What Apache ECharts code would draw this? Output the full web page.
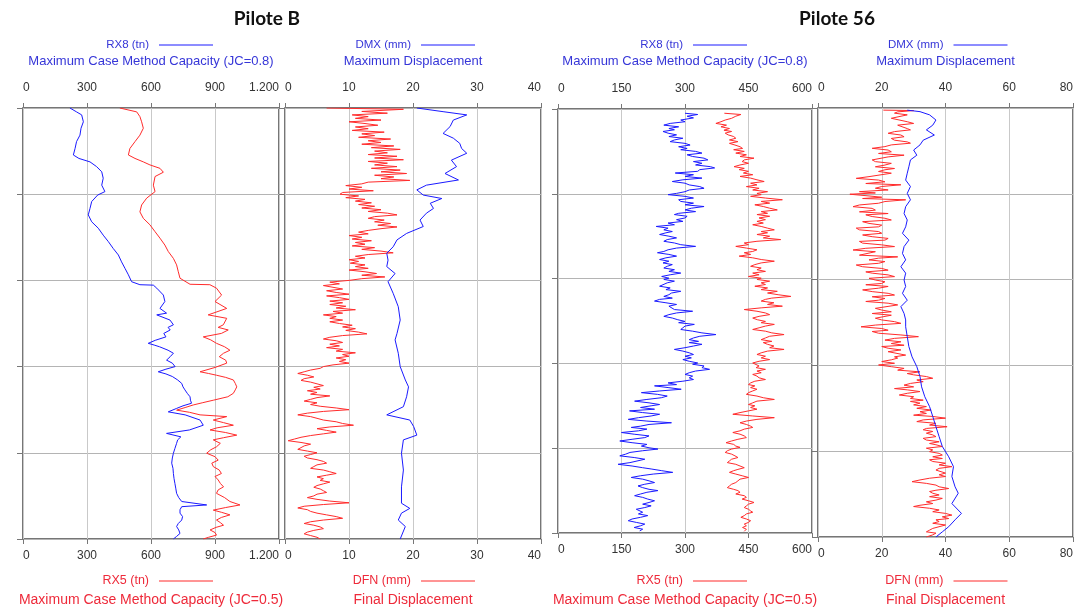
<!DOCTYPE html>
<html>
<head>
<meta charset="utf-8">
<title>Pilote B / Pilote 56</title>
<script src="https://cdn.jsdelivr.net/npm/echarts@6/dist/echarts.min.js"></script>
<style>
  html, body { margin: 0; padding: 0; background: #fff; }
  #chart { width: 1076px; height: 609px; }
</style>
</head>
<body>
<div id="chart"></div>
<script>
// ticks of each track (top and bottom axes share them)
var ticksRxB = [0, 300, 600, 900, 1200];
var ticksDB = [0, 10, 20, 30, 40];
var ticksRx56 = [0, 150, 300, 450, 600];
var ticksD56 = [0, 20, 40, 60, 80];

// [value, depth %]
// Pilote B - RX8 (blue) / RX5 (red)
var pbRx8 = [[220,0],[251,0.9],[275,1.6],[283,3.2],[272,4.7],[267,6.3],[251,7.8],[244,9.4],[236,10.9],[262,11.7],[314,12.5],[345,13.6],[369,14.8],[376,16.3],[369,17.9],[384,19.4],[350,20.2],[322,21.7],[314,23.3],[306,24.8],[322,26.4],[353,27.9],[376,29.5],[400,31.0],[423,32.6],[447,34.1],[462,35.7],[478,37.2],[494,38.7],[509,40.3],[548,41.0],[611,41.1],[627,41.8],[658,43.4],[665,44.9],[642,46.5],[673,47.6],[627,48.0],[689,49.2],[705,50.3],[680,50.9],[690,51.5],[660,52.3],[670,53.1],[620,53.9],[587,54.6],[615,55.0],[640,55.4],[680,56.2],[705,56.9],[690,57.7],[673,58.5],[700,59.2],[713,60.0],[670,60.6],[634,61.2],[670,61.7],[700,62.3],[725,63.1],[744,63.9],[750,64.7],[759,65.4],[770,66.2],[783,67.0],[785,67.8],[790,68.5],[750,69.1],[720,69.7],[681,70.5],[760,71.2],[830,72.4],[845,73.6],[780,74.7],[673,75.5],[740,76.3],[725,77.0],[720,77.8],[712,79.0],[705,80.1],[700,81.2],[697,82.4],[703,83.6],[705,84.8],[708,86.0],[712,87.1],[716,88.2],[720,89.4],[730,90.4],[744,91.3],[861,92.1],[744,92.5],[736,93.2],[736,94.0],[748,94.8],[744,95.6],[728,96.4],[720,97.1],[730,97.9],[736,98.7],[720,99.4],[705,100]];
var pbRx5 = [[454,0],[533,0.9],[548,2.0],[556,3.2],[564,4.7],[548,6.3],[525,7.8],[501,9.4],[494,10.9],[525,11.7],[564,12.5],[595,13.2],[642,14.0],[658,14.9],[619,15.9],[611,17.9],[619,19.4],[580,20.9],[556,22.5],[548,24.1],[564,25.6],[595,27.1],[619,28.7],[642,30.2],[665,31.8],[681,33.3],[705,34.9],[720,36.4],[728,38.0],[736,39.5],[783,40.9],[876,41.0],[907,41.8],[931,43.4],[900,44.9],[955,46.5],[868,48.0],[955,48.8],[939,50.3],[915,50.9],[962,51.5],[930,52.3],[845,53.1],[880,53.8],[907,54.6],[945,55.4],[970,56.2],[940,56.9],[920,57.7],[950,58.5],[955,59.2],[900,60.2],[830,61.2],[870,61.6],[907,62.0],[950,62.5],[986,63.1],[995,63.9],[1002,64.7],[995,65.4],[986,66.2],[960,67.0],[892,67.8],[840,68.4],[798,68.9],[760,69.5],[720,70.1],[780,70.6],[830,71.2],[955,71.6],[892,72.4],[940,73.0],[986,73.6],[910,74.2],[877,74.7],[950,75.3],[1002,75.9],[940,76.5],[892,77.0],[925,77.8],[907,78.6],[880,79.3],[861,80.1],[900,80.9],[915,81.7],[885,82.4],[892,83.2],[920,84.0],[930,84.8],[900,85.5],[915,86.3],[925,87.1],[940,87.9],[915,88.6],[907,89.4],[945,90.4],[970,91.3],[1017,92.1],[950,92.7],[892,93.3],[930,93.8],[970,94.4],[930,95.0],[907,95.6],[925,96.2],[940,96.8],[905,97.3],[877,97.9],[900,98.5],[907,99.1],[870,99.6],[845,100]];
// Pilote B - DMX (blue) / DFN (red)
var pbDmx = [[20.6,0],[24.7,0.85],[28.4,1.6],[26.3,2.8],[25.8,4.3],[24.7,5.9],[26.3,7.0],[27.3,8.2],[27.6,9.4],[28.4,10.5],[26.0,12.1],[26.8,13.6],[25.0,15.2],[27.1,16.7],[22.1,17.9],[20.6,19.0],[21.6,20.2],[24.5,21.0],[22.7,22.1],[23.2,23.3],[22.1,24.4],[21.1,26.0],[21.6,27.5],[19.0,29.1],[17.5,30.6],[16.9,32.2],[15.9,33.7],[16.1,35.3],[15.9,36.8],[17.2,38.4],[16.1,40.3],[16.9,43.0],[17.7,46.1],[18.0,49.2],[17.5,52.3],[17.2,53.8],[17.7,56.9],[18.0,60.0],[18.8,63.1],[19.3,64.7],[19.0,67.0],[18.5,69.3],[15.9,71.2],[19.5,72.4],[20.1,73.9],[20.6,75.9],[18.5,77.0],[18.2,80.1],[18.5,84.0],[18.2,87.9],[18.2,91.7],[19.5,92.9],[18.2,94.0],[17.7,95.6],[18.8,97.1],[18.0,100]];
var pbDfn = [[6.5,0],[18.5,0.3],[12,0.8],[16,1.2],[10.5,1.6],[13,2.0],[11,2.4],[15,2.8],[10,3.2],[12.5,3.6],[14.5,4.0],[11,4.4],[13,4.8],[10.5,5.2],[15.5,5.6],[12,6.0],[14,6.4],[11.5,6.8],[16.5,7.2],[13,7.6],[15,8.0],[12,8.4],[17,8.8],[13.5,9.2],[18,9.6],[14,10.0],[16,10.4],[13,10.8],[17.5,11.2],[14,11.6],[18.5,12.0],[13,12.4],[16,12.8],[14,13.2],[17.5,13.6],[13.5,14.0],[18,14.4],[15,14.8],[19,15.2],[14,15.6],[17,16.0],[15,16.4],[19.5,16.8],[13,17.2],[12,17.6],[9.5,18.0],[12,18.4],[10,18.8],[13.8,19.2],[9,19.6],[8.6,20.0],[11.5,20.4],[9.5,20.8],[12.5,21.2],[11,21.6],[13.5,22.0],[11.5,22.4],[14,22.8],[12,23.2],[15,23.6],[13,24.0],[16,24.4],[17.5,24.8],[14,25.2],[13,25.6],[15.5,26.0],[14,26.4],[16.5,26.8],[14.5,27.2],[17.5,27.6],[15,28.0],[13,28.4],[11.5,28.8],[13,29.2],[10,29.6],[12,30.0],[10.5,30.4],[13.5,30.8],[11,31.2],[12.5,31.6],[10.5,32.0],[14,32.4],[12,32.8],[15,33.2],[16.9,33.6],[13,34.0],[11,34.4],[12.5,34.8],[10,35.2],[11.5,35.6],[10.2,36.0],[12.5,36.4],[11,36.8],[13,37.2],[10,37.6],[12.5,38.0],[14.3,38.4],[12,38.8],[15.6,39.2],[12,39.6],[10,40.0],[7,40.4],[8.5,40.8],[6,41.2],[7.5,41.6],[9,42.0],[6.5,42.4],[8,42.8],[10,43.2],[6.5,43.6],[8.5,44.0],[10,44.4],[7,44.8],[9,45.2],[7,45.6],[9.5,46.0],[8,46.4],[11,46.8],[7.5,47.2],[9,47.6],[6,48.0],[8,48.4],[7,48.8],[9,49.2],[7,49.6],[8.5,50.0],[10.5,50.4],[9,50.8],[11,51.2],[9.5,51.6],[11.5,52.0],[12.8,52.4],[9,52.8],[7,53.2],[6,53.6],[8,54.0],[9,54.4],[7,54.8],[8.5,55.2],[6.5,55.6],[9,56.0],[8,56.4],[11,56.8],[9,57.2],[10,57.6],[8,58.0],[9.5,58.4],[8.5,58.8],[10,59.2],[7.5,59.6],[6,60.0],[5.5,60.4],[4,60.8],[3,61.2],[2,61.6],[3.5,62.0],[4.5,62.4],[3,62.8],[2.5,63.2],[4,63.6],[5,64.0],[6,64.4],[4.5,64.8],[5.5,65.2],[3.5,65.6],[5,66.0],[4,66.4],[7,66.8],[5,67.2],[4,67.6],[3,68.0],[5,68.4],[4,68.8],[5.5,69.2],[8,69.6],[10,70.0],[6,70.4],[3.5,70.8],[2,71.2],[4,71.6],[5,72.0],[6,72.4],[8,72.8],[9,73.2],[10.7,73.6],[7,74.0],[5,74.4],[6.5,74.8],[8,75.2],[6,75.6],[4,76.0],[2.5,76.4],[1.5,76.8],[0.5,77.2],[2.5,77.6],[4,78.0],[3,78.4],[2.5,78.8],[2,79.2],[3.5,79.6],[5,80.0],[4,80.4],[3,80.8],[3.5,81.2],[5,81.6],[6,82.0],[6.5,82.4],[5,82.8],[4.5,83.2],[4,83.6],[6,84.0],[7,84.4],[8,84.8],[6.5,85.2],[5,85.6],[6,86.0],[5.5,86.4],[7,86.8],[6,87.2],[5,87.6],[4.5,88.0],[5.5,88.4],[6,88.8],[6.5,89.2],[5,89.6],[4.5,90.0],[3.5,90.4],[5,90.8],[7,91.2],[10,91.6],[6,92.0],[3,92.4],[2,92.8],[3.5,93.2],[4,93.6],[5,94.0],[6.5,94.4],[8,94.8],[9,95.2],[6,95.6],[4,96.0],[3,96.4],[4.5,96.8],[5.5,97.2],[6,97.6],[4.5,98.0],[3.5,98.4],[3,98.8],[4,99.2],[5,99.6],[5.5,100]];
// Pilote 56 - RX8 (blue) / RX5 (red)
var p56Rx8 = [[300,1.0],[330,1.3],[305,1.7],[320,2.1],[290,2.6],[300,3.0],[265,3.4],[250,3.8],[285,4.2],[262,4.6],[275,4.9],[248,5.3],[260,5.7],[280,6.1],[262,6.5],[295,6.9],[275,7.3],[265,7.7],[300,8.1],[312,8.5],[285,8.9],[305,9.3],[290,9.6],[325,10.0],[340,10.4],[305,10.8],[318,11.2],[345,11.6],[354,12.0],[320,12.4],[340,12.8],[325,13.2],[360,13.6],[370,13.9],[335,14.3],[330,14.7],[277,15.1],[320,15.5],[300,15.9],[340,16.3],[295,16.7],[270,17.1],[300,17.5],[310,17.9],[335,18.3],[345,18.7],[310,19.1],[300,19.5],[280,19.9],[260,20.2],[300,20.6],[320,21.0],[285,21.4],[290,21.8],[320,22.2],[300,22.6],[345,23.0],[315,23.4],[300,23.8],[325,24.2],[285,24.6],[275,24.9],[305,25.3],[300,25.7],[280,26.1],[295,26.5],[260,26.9],[275,27.3],[232,27.7],[260,28.1],[250,28.5],[270,28.9],[255,29.2],[240,29.6],[262,30.0],[280,30.4],[258,30.8],[250,31.2],[275,31.6],[290,32.0],[325,32.4],[280,32.8],[260,33.2],[250,33.6],[235,33.9],[262,34.3],[280,34.7],[255,35.1],[240,35.5],[262,35.9],[248,36.3],[270,36.7],[258,37.1],[250,37.5],[275,37.9],[262,38.3],[290,38.7],[265,39.1],[245,39.5],[262,39.9],[250,40.2],[275,40.6],[258,41.0],[262,41.4],[240,41.8],[265,42.2],[255,42.6],[290,43.0],[268,43.4],[262,43.8],[250,44.2],[270,44.6],[240,44.9],[228,45.3],[255,45.7],[280,46.1],[262,46.5],[260,46.9],[275,47.3],[318,47.7],[280,48.1],[262,48.5],[250,48.9],[270,49.3],[283,49.7],[300,50.1],[285,50.4],[322,50.8],[300,51.2],[295,51.6],[290,52.0],[318,52.4],[340,52.8],[373,53.2],[335,53.6],[320,54.0],[310,54.4],[332,54.8],[310,55.1],[340,55.5],[320,55.9],[300,56.3],[275,56.7],[295,57.1],[310,57.5],[320,57.9],[300,58.3],[315,58.7],[295,59.1],[310,59.5],[330,59.9],[318,60.2],[345,60.6],[340,61.0],[358,61.4],[325,61.8],[310,62.2],[300,62.6],[318,63.0],[310,63.4],[320,63.8],[295,64.2],[260,64.6],[280,65.0],[228,65.3],[260,65.7],[291,66.1],[240,66.5],[197,66.9],[235,67.3],[258,67.7],[244,68.1],[210,68.5],[181,68.9],[215,69.3],[240,69.7],[220,70.0],[195,70.4],[228,70.8],[169,71.2],[200,71.6],[240,72.0],[220,72.4],[190,72.8],[166,73.2],[210,73.6],[268,74.0],[215,74.4],[195,74.8],[173,75.1],[210,75.5],[190,75.9],[150,76.3],[180,76.7],[215,77.1],[205,77.5],[175,77.9],[146,78.3],[175,78.7],[210,79.1],[197,79.5],[215,79.9],[236,80.2],[200,80.6],[170,81.0],[160,81.4],[146,81.8],[180,82.2],[205,82.6],[205,83.0],[170,83.4],[142,83.8],[175,84.2],[200,84.6],[220,84.9],[245,85.3],[271,85.7],[225,86.1],[195,86.5],[173,86.9],[200,87.3],[215,87.7],[228,88.1],[205,88.5],[189,88.9],[200,89.3],[215,89.7],[236,90.0],[210,90.4],[195,90.8],[181,91.2],[200,91.6],[212,92.0],[228,92.4],[215,92.8],[200,93.2],[220,93.6],[205,94.0],[185,94.4],[181,94.8],[200,95.1],[190,95.5],[212,95.9],[195,96.3],[175,96.7],[166,97.1],[185,97.5],[205,97.9],[195,98.3],[180,98.7],[200,99.1],[193,99.5]];
var p56Rx5 = [[393,1.0],[432,1.3],[420,1.7],[410,2.2],[395,2.6],[385,3.0],[373,3.4],[398,3.8],[385,4.2],[405,4.6],[392,5.0],[410,5.3],[395,5.7],[402,6.1],[415,6.5],[420,6.9],[405,7.3],[425,7.7],[405,8.1],[418,8.5],[430,8.9],[436,9.3],[415,9.6],[440,10.0],[420,10.4],[445,10.8],[430,11.2],[463,11.6],[440,12.0],[435,12.4],[450,12.8],[430,13.2],[416,13.6],[440,14.0],[428,14.3],[450,14.7],[438,15.1],[460,15.5],[430,15.9],[455,16.3],[470,16.7],[487,17.1],[455,17.5],[470,17.9],[445,18.3],[475,18.7],[460,19.1],[495,19.5],[470,19.9],[480,20.2],[455,20.6],[490,21.0],[530,21.4],[480,21.8],[500,22.2],[465,22.6],[485,23.0],[500,23.4],[518,23.8],[480,24.2],[495,24.6],[470,24.9],[500,25.3],[475,25.7],[490,26.1],[470,26.5],[485,26.9],[460,27.3],[480,27.7],[495,28.1],[511,28.5],[480,28.9],[495,29.2],[470,29.6],[500,30.0],[485,30.4],[526,30.8],[470,31.2],[440,31.6],[450,32.0],[420,32.4],[445,32.8],[470,33.2],[460,33.6],[440,33.9],[455,34.3],[428,34.7],[460,35.1],[480,35.5],[511,35.9],[480,36.3],[465,36.7],[455,37.1],[480,37.5],[470,37.9],[490,38.3],[460,38.7],[475,39.1],[450,39.5],[480,39.9],[470,40.2],[500,40.6],[480,41.0],[490,41.4],[465,41.8],[495,42.2],[480,42.6],[518,43.0],[495,43.4],[520,43.8],[550,44.2],[505,44.6],[490,44.9],[480,45.3],[510,45.7],[495,46.1],[530,46.5],[480,46.9],[440,47.3],[470,47.7],[490,48.1],[500,48.5],[475,48.9],[460,49.3],[471,49.7],[490,50.1],[480,50.4],[511,50.8],[490,51.2],[475,51.6],[460,52.0],[490,52.4],[505,52.8],[534,53.2],[500,53.6],[490,54.0],[480,54.4],[505,54.8],[485,55.1],[495,55.5],[510,55.9],[500,56.3],[534,56.7],[495,57.1],[480,57.5],[470,57.9],[490,58.3],[480,58.7],[500,59.1],[475,59.5],[460,59.9],[456,60.2],[475,60.6],[468,61.0],[490,61.4],[470,61.8],[480,62.2],[460,62.6],[470,63.0],[475,63.4],[490,63.8],[465,64.2],[455,64.6],[450,65.0],[465,65.3],[455,65.7],[470,66.1],[460,66.5],[450,66.9],[445,67.3],[470,67.7],[485,68.1],[511,68.5],[470,68.9],[460,69.3],[450,69.7],[465,70.0],[455,70.4],[470,70.8],[450,71.2],[430,71.6],[413,72.0],[460,72.4],[511,72.8],[470,73.2],[445,73.6],[430,74.0],[445,74.4],[455,74.8],[460,75.1],[440,75.5],[430,75.9],[413,76.3],[430,76.7],[440,77.1],[445,77.5],[425,77.9],[410,78.3],[397,78.7],[415,79.1],[420,79.5],[430,79.8],[410,80.2],[400,80.6],[395,81.0],[410,81.4],[418,81.8],[425,82.2],[410,82.6],[405,83.0],[400,83.4],[420,83.8],[430,84.2],[440,84.6],[425,85.0],[415,85.3],[405,85.7],[420,86.1],[435,86.5],[450,86.9],[430,87.3],[425,87.7],[420,88.1],[410,88.5],[405,88.9],[400,89.3],[415,89.7],[425,90.0],[430,90.4],[420,90.8],[440,91.2],[445,91.6],[435,92.0],[450,92.4],[463,92.8],[450,93.2],[445,93.6],[440,94.0],[450,94.4],[455,94.8],[460,95.1],[445,95.5],[440,95.9],[432,96.3],[445,96.7],[455,97.1],[450,97.5],[440,97.9],[445,98.3],[436,98.7],[445,99.1],[440,99.6]];
// Pilote 56 - DMX (blue) / DFN (red)
var p56Dmx = [[28,0.5],[32,0.85],[35,1.6],[37,2.8],[36,4.0],[34,5.1],[36.5,6.3],[33,7.5],[32,8.6],[30,9.8],[31,11.0],[29,12.1],[28.5,13.7],[28,15.2],[27.5,16.8],[29,18.3],[28,19.9],[29,21.4],[27.5,23.0],[27,24.6],[28,26.1],[27.5,27.7],[26.5,29.2],[28.5,30.8],[27,32.3],[26.5,33.9],[27.5,35.4],[26,37.0],[27.5,38.5],[27,40.1],[27.5,41.6],[26.5,43.2],[28,44.8],[26,46.3],[27,47.9],[27.5,49.4],[27.5,51.0],[28,53.3],[28.5,55.6],[29.5,58.0],[31,60.3],[32,62.6],[32.5,65.0],[33.5,67.3],[35,69.6],[36,71.9],[37,74.3],[38,76.6],[39,78.9],[41,81.3],[42.5,83.6],[42,85.9],[43,88.3],[44,89.8],[42,92.2],[45,94.5],[43,96.0],[41,97.6],[39,98.8],[37,100]];
var p56Dfn = [[20.5,0.5],[30,0.6],[25,0.9],[24,1.2],[28,1.6],[28,2.0],[23,2.4],[23,2.8],[28,3.2],[30,3.6],[25,4.0],[25,4.4],[28,4.8],[29,5.1],[24,5.5],[22,5.9],[26,6.3],[27,6.7],[23,7.1],[24,7.5],[28,7.9],[29,8.2],[23,8.6],[21,9.0],[17,9.4],[22,9.8],[23,10.2],[19,10.6],[27,11.0],[22,11.4],[22,11.7],[17,12.1],[18,12.5],[23,12.9],[21,13.3],[18,13.7],[24,14.1],[21,14.4],[19,14.8],[23,15.2],[22.5,15.6],[16,16.0],[12,16.4],[19,16.8],[21,17.2],[15,17.6],[26,17.9],[20,18.3],[18,18.7],[22,19.1],[13,19.5],[18,19.8],[10,20.1],[16,20.5],[20,20.8],[14,21.1],[27.5,21.4],[21,21.8],[19,22.2],[13,22.6],[11,23.0],[17,23.4],[18,23.8],[13,24.2],[22,24.6],[15,24.9],[17,25.3],[21,25.7],[23,26.1],[14,26.5],[16,26.9],[20,27.3],[19,27.7],[12,28.0],[13,28.4],[19,28.8],[20,29.2],[14,29.6],[17,30.0],[22,30.4],[21,30.8],[13,31.1],[14,31.5],[20,31.9],[24,32.3],[15,32.7],[11,33.1],[18,33.5],[18,33.9],[13,34.3],[25,34.7],[19,35.0],[16,35.4],[21,35.8],[19,36.2],[12,36.6],[14,37.0],[20,37.4],[22,37.8],[15,38.2],[17,38.5],[22,38.9],[24,39.3],[16,39.7],[18,40.1],[21,40.5],[20,40.9],[15,41.2],[22,41.6],[19,42.0],[14,42.4],[17,42.8],[22,43.2],[24,43.6],[17,44.0],[21,44.4],[19,44.8],[15,45.1],[22,45.5],[25,45.9],[25,46.3],[18,46.7],[20,47.1],[23,47.5],[17,47.9],[23,48.3],[23,48.6],[18,49.0],[20,49.4],[24,49.8],[26,50.2],[18,50.6],[13.5,51.0],[20,51.4],[22,51.8],[17,52.1],[19,52.5],[26,52.9],[31.5,53.3],[24,53.7],[21,54.1],[26,54.5],[23,54.9],[27,55.3],[20,55.6],[22,56.0],[26,56.4],[22,56.8],[27.5,57.6],[24,58.0],[25,58.3],[23,58.7],[20,59.1],[24,59.5],[19,59.9],[23,60.3],[27,60.7],[25,61.1],[32,61.5],[28,61.9],[30,62.2],[34,62.6],[36,63.0],[31,63.4],[33,63.8],[29,64.2],[27,64.6],[30,65.0],[24,65.4],[28,65.7],[32,66.1],[28,66.5],[25.5,66.9],[30,67.3],[29,67.7],[33,68.1],[29,68.4],[32,68.8],[30,69.2],[34,69.6],[31,70.0],[35.5,70.4],[32,70.8],[34,71.2],[30,71.6],[36,71.9],[40,72.3],[33,72.7],[31,73.1],[37,73.5],[35,73.9],[40.5,74.3],[34,74.7],[33,75.0],[36,75.4],[34,75.8],[36,76.2],[37,76.6],[33,77.0],[34,77.4],[38,77.8],[35,78.2],[37,78.5],[39,78.9],[34,79.3],[36,79.7],[35,80.1],[38,80.5],[39,80.9],[36,81.3],[39,81.7],[35,82.0],[36,82.4],[40,82.8],[38,83.2],[42,83.6],[38,84.0],[37,84.4],[37,84.8],[40,85.1],[38,85.5],[40,85.9],[35,86.3],[32,86.7],[29.5,87.1],[34,87.5],[37,87.9],[38,88.3],[41,88.7],[37,89.1],[35,89.4],[36,89.8],[38,90.2],[35,90.6],[39,91.0],[37,91.4],[34,91.8],[36,92.2],[32,92.6],[30,92.9],[35,93.3],[38,93.7],[36,94.1],[40,94.5],[42,94.9],[39,95.3],[41,95.7],[37,96.0],[38,96.4],[36,96.8],[40,97.2],[40,97.6],[36,98.0],[35,98.4],[34,98.8],[37,99.1],[36,99.5],[34,100]];

var BLUE = '#1a1aff', RED = '#ff2b2b';
var BLUE_TXT = '#3636d8', RED_TXT = '#ee2a3a';
var FONT = '"Liberation Sans", Arial, sans-serif';

// track frames: left, top, width, height
var tracks = [
  { box: [23, 108, 256, 431], ticks: ticksRxB, blue: pbRx8, red: pbRx5,
    topName: 'RX8 (tn)', topSub: 'Maximum Case Method Capacity (JC=0.8)',
    botName: 'RX5 (tn)', botSub: 'Maximum Case Method Capacity (JC=0.5)' },
  { box: [285, 108, 256, 431], ticks: ticksDB, blue: pbDmx, red: pbDfn,
    topName: 'DMX (mm)', topSub: 'Maximum Displacement',
    botName: 'DFN (mm)', botSub: 'Final Displacement' },
  { box: [558, 109, 254, 424], ticks: ticksRx56, blue: p56Rx8, red: p56Rx5,
    topName: 'RX8 (tn)', topSub: 'Maximum Case Method Capacity (JC=0.8)',
    botName: 'RX5 (tn)', botSub: 'Maximum Case Method Capacity (JC=0.5)' },
  { box: [818, 108, 255, 429], ticks: ticksD56, blue: p56Dmx, red: p56Dfn,
    topName: 'DMX (mm)', topSub: 'Maximum Displacement',
    botName: 'DFN (mm)', botSub: 'Final Displacement' }
];

function fmt(v) {
  return String(v).replace(/\B(?=(\d{3})+(?!\d))/g, '.');
}

var grid = [], xAxis = [], yAxis = [], series = [], graphic = [];

tracks.forEach(function (t, i) {
  var b = t.box;
  var max = t.ticks[t.ticks.length - 1];
  var step = t.ticks[1] - t.ticks[0];
  grid.push({ left: b[0], top: b[1], width: b[2], height: b[3], show: true,
    borderColor: '#4a4a4a', borderWidth: 1.5, backgroundColor: 'transparent' });

  ['top', 'bottom'].forEach(function (pos) {
    xAxis.push({
      gridIndex: i, type: 'value', position: pos, min: 0, max: max, interval: step,
      axisLine: { show: false },
      axisTick: { show: true, length: 5, lineStyle: { color: '#777' } },
      axisLabel: { color: '#333', fontFamily: FONT, fontSize: 12,
        margin: pos === 'top' ? 14 : 11, alignMinLabel: 'left', alignMaxLabel: 'right',
        formatter: fmt },
      splitLine: { show: pos === 'top', lineStyle: { color: '#c9c9c9', width: 1 } }
    });
  });

  yAxis.push({
    gridIndex: i, type: 'value', inverse: true, min: 0, max: 100, interval: 20,
    axisLine: { show: false },
    axisLabel: { show: false },
    axisTick: { show: true, length: 6, lineStyle: { color: '#777' } },
    splitLine: { show: true, lineStyle: { color: '#b4b4b4', width: 1 } }
  });

  series.push({
    name: t.topName, type: 'line', xAxisIndex: i * 2, yAxisIndex: i,
    data: t.blue, showSymbol: false, animation: false,
    lineStyle: { color: BLUE, width: 1 }, z: 3
  });
  series.push({
    name: t.botName, type: 'line', xAxisIndex: i * 2 + 1, yAxisIndex: i,
    data: t.red, showSymbol: false, animation: false,
    lineStyle: { color: RED, width: 1 }, z: 2
  });

  // axis captions with their line sample
  var cx = b[0] + b[2] / 2;
  [[t.topName, t.topSub, 45, 61, BLUE_TXT, BLUE, 11.5, 13],
   [t.botName, t.botSub, 581, 600, RED_TXT, RED, 12.5, 14]].forEach(function (c) {
    graphic.push({ type: 'text', x: cx - 2, y: c[2], style: { text: c[0], fill: c[4],
      font: c[6] + 'px ' + FONT, textAlign: 'right', textVerticalAlign: 'middle' } });
    graphic.push({ type: 'line', shape: { x1: cx + 8, y1: c[2], x2: cx + 62, y2: c[2] },
      style: { stroke: c[5], lineWidth: 1 } });
    graphic.push({ type: 'text', x: cx, y: c[3], style: { text: c[1], fill: c[4],
      font: c[7] + 'px ' + FONT, textAlign: 'center', textVerticalAlign: 'middle' } });
  });
});

var chart = echarts.init(document.getElementById('chart'), null, { renderer: 'canvas' });
chart.setOption({
  animation: false,
  backgroundColor: '#fff',
  title: [
    { text: 'Pilote B', left: 262, top: 4, textAlign: 'center',
      textStyle: { fontFamily: 'Lato, "Open Sans", sans-serif', fontWeight: 'bold', fontSize: 19, color: '#111' } },
    { text: 'Pilote 56', left: 832, top: 4, textAlign: 'center',
      textStyle: { fontFamily: 'Lato, "Open Sans", sans-serif', fontWeight: 'bold', fontSize: 19, color: '#111' } }
  ],
  grid: grid,
  xAxis: xAxis,
  yAxis: yAxis,
  series: series,
  graphic: graphic
});
</script>
</body>
</html>
